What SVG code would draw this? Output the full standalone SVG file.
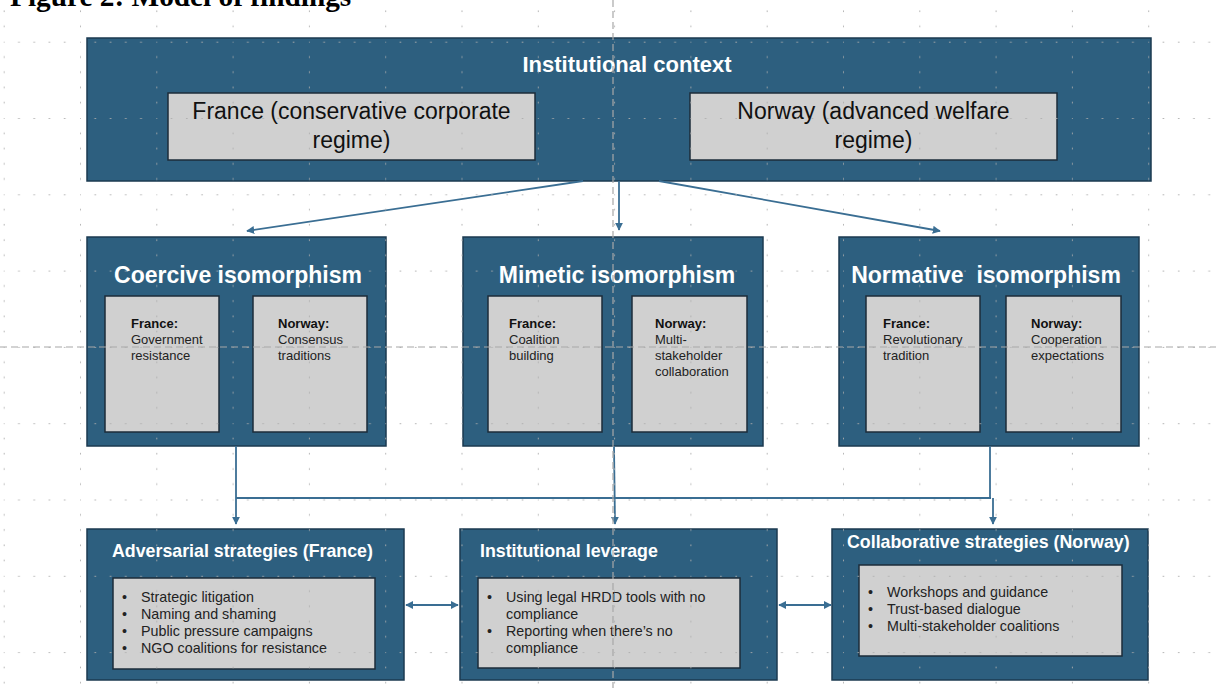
<svg xmlns="http://www.w3.org/2000/svg" width="1216" height="688" viewBox="0 0 1216 688">
<style>
.box{fill:#2D5F7F;stroke:#1B3A50;stroke-width:1.5}
.inner{fill:#D0D0D0;stroke:#1C2C3A;stroke-width:1.5}
.t{font-family:"Liberation Sans",Arial,sans-serif}
.wt{fill:#FFFFFF;font-weight:bold}
.h1{font-size:22px}
.h2{font-size:23px}
.h3{font-size:17.8px}
.ctx{font-size:23px;fill:#111}
.sm{font-size:13px;fill:#222}
.b{font-weight:bold;fill:#111}
.bl{font-size:14.3px;fill:#222}
.con{stroke:#3A6E93;stroke-width:1.8;fill:none}
.guide{stroke:#A8A8A8;stroke-width:1.2;stroke-dasharray:7 4;fill:none}
</style>
<defs>
<marker id="ah" viewBox="0 0 10 10" refX="9" refY="5" markerWidth="8" markerHeight="8" markerUnits="userSpaceOnUse" orient="auto-start-reverse">
<path d="M0,0 L10,5 L0,10 z" fill="#3A6E93"/>
</marker>
<pattern id="grid" patternUnits="userSpaceOnUse" x="3.7" y="41.7" width="76.3" height="76.3">
<g fill="#ADADAD">
<circle cx="0" cy="0" r="1"/><circle cx="15.26" cy="0" r="1"/><circle cx="30.52" cy="0" r="1"/><circle cx="45.78" cy="0" r="1"/><circle cx="61.04" cy="0" r="1"/>
<circle cx="0" cy="15.26" r="1"/><circle cx="0" cy="30.52" r="1"/><circle cx="0" cy="45.78" r="1"/><circle cx="0" cy="61.04" r="1"/>
</g>
</pattern>
</defs>
<rect x="0" y="0" width="1216" height="688" fill="#FFFFFF"/>
<text x="10" y="6" font-family="'Liberation Serif','Times New Roman',serif" font-weight="bold" font-size="29.3" fill="#000">Figure 2: Model of findings</text>

<g id="institutional-context">
<rect class="box" x="87" y="38" width="1064" height="143"/>
<text class="t wt h1" x="627" y="72" text-anchor="middle" font-size="22.5">Institutional context</text>
<rect class="inner" x="168" y="93" width="367" height="67"/>
<text class="t ctx" x="351.5" y="119" text-anchor="middle">France (conservative corporate</text>
<text class="t ctx" x="351.5" y="148" text-anchor="middle">regime)</text>
<rect class="inner" x="690" y="93" width="367" height="67"/>
<text class="t ctx" x="873.5" y="119" text-anchor="middle">Norway (advanced welfare</text>
<text class="t ctx" x="873.5" y="148" text-anchor="middle">regime)</text>
</g>

<g id="coercive">
<rect class="box" x="87" y="237" width="299" height="209"/>
<text class="t wt h2" x="238" y="283" text-anchor="middle">Coercive isomorphism</text>
<rect class="inner" x="105" y="296" width="114" height="136"/>
<text class="t sm" x="131" y="328"><tspan class="b">France:</tspan><tspan x="131" dy="16">Government</tspan><tspan x="131" dy="16">resistance</tspan></text>
<rect class="inner" x="253" y="296" width="114" height="136"/>
<text class="t sm" x="278" y="328"><tspan class="b">Norway:</tspan><tspan x="278" dy="16">Consensus</tspan><tspan x="278" dy="16">traditions</tspan></text>
</g>

<g id="mimetic">
<rect class="box" x="463" y="237" width="300" height="209"/>
<text class="t wt h2" x="617" y="283" text-anchor="middle">Mimetic isomorphism</text>
<rect class="inner" x="488" y="296" width="114" height="136"/>
<text class="t sm" x="509" y="328"><tspan class="b">France:</tspan><tspan x="509" dy="16">Coalition</tspan><tspan x="509" dy="16">building</tspan></text>
<rect class="inner" x="632" y="296" width="115" height="136"/>
<text class="t sm" x="655" y="328"><tspan class="b">Norway:</tspan><tspan x="655" dy="16">Multi-</tspan><tspan x="655" dy="16">stakeholder</tspan><tspan x="655" dy="16">collaboration</tspan></text>
</g>

<g id="normative">
<rect class="box" x="839" y="237" width="300" height="209"/>
<text class="t wt h2" x="986" y="283" text-anchor="middle" xml:space="preserve">Normative  isomorphism</text>
<rect class="inner" x="866" y="296" width="114" height="136"/>
<text class="t sm" x="883" y="328"><tspan class="b">France:</tspan><tspan x="883" dy="16">Revolutionary</tspan><tspan x="883" dy="16">tradition</tspan></text>
<rect class="inner" x="1006" y="296" width="115" height="136"/>
<text class="t sm" x="1031" y="328"><tspan class="b">Norway:</tspan><tspan x="1031" dy="16">Cooperation</tspan><tspan x="1031" dy="16">expectations</tspan></text>
</g>

<g id="adversarial">
<rect class="box" x="87" y="529" width="317" height="151"/>
<text class="t wt h3" x="112" y="557">Adversarial strategies (France)</text>
<rect class="inner" x="113" y="578" width="262" height="91"/>
<g class="t bl">
<text x="122" y="602">•</text><text x="141" y="602">Strategic litigation</text>
<text x="122" y="619">•</text><text x="141" y="619">Naming and shaming</text>
<text x="122" y="636">•</text><text x="141" y="636">Public pressure campaigns</text>
<text x="122" y="653">•</text><text x="141" y="653">NGO coalitions for resistance</text>
</g>
</g>

<g id="institutional-leverage">
<rect class="box" x="460" y="529" width="317" height="151"/>
<text class="t wt h3" x="480" y="557">Institutional leverage</text>
<rect class="inner" x="478" y="578" width="262" height="90"/>
<g class="t bl">
<text x="487" y="602">•</text><text x="506" y="602">Using legal HRDD tools with no</text>
<text x="506" y="619">compliance</text>
<text x="487" y="636">•</text><text x="506" y="636">Reporting when there’s no</text>
<text x="506" y="653">compliance</text>
</g>
</g>

<g id="collaborative">
<rect class="box" x="832" y="529" width="316" height="151"/>
<text class="t wt h3" x="847" y="548">Collaborative strategies (Norway)</text>
<rect class="inner" x="859" y="565" width="263" height="91"/>
<g class="t bl">
<text x="868" y="597">•</text><text x="887" y="597">Workshops and guidance</text>
<text x="868" y="614">•</text><text x="887" y="614">Trust-based dialogue</text>
<text x="868" y="631">•</text><text x="887" y="631">Multi-stakeholder coalitions</text>
</g>
</g>

<g id="connectors">
<line class="con" x1="583" y1="181" x2="247" y2="231" marker-end="url(#ah)"/>
<line class="con" x1="619" y1="181" x2="619" y2="230" marker-end="url(#ah)"/>
<line class="con" x1="659" y1="181" x2="940" y2="231" marker-end="url(#ah)"/>
<line class="con" x1="236" y1="446" x2="236" y2="524" marker-end="url(#ah)"/>
<polyline class="con" points="236,498 991,498"/>
<line class="con" x1="614" y1="446" x2="615" y2="524" marker-end="url(#ah)"/>
<polyline class="con" points="990,446 990,498"/>
<line class="con" x1="993" y1="498" x2="993" y2="524" marker-end="url(#ah)"/>
<line class="con" x1="406" y1="605" x2="458" y2="605" marker-start="url(#ah)" marker-end="url(#ah)"/>
<line class="con" x1="779" y1="605" x2="831" y2="605" marker-start="url(#ah)" marker-end="url(#ah)"/>
</g>

<g id="guides">
<rect x="0" y="0" width="1216" height="688" fill="url(#grid)"/>
<line class="guide" x1="613" y1="0" x2="613" y2="688"/>
<line class="guide" x1="0" y1="347" x2="1216" y2="347"/>
</g>
</svg>
